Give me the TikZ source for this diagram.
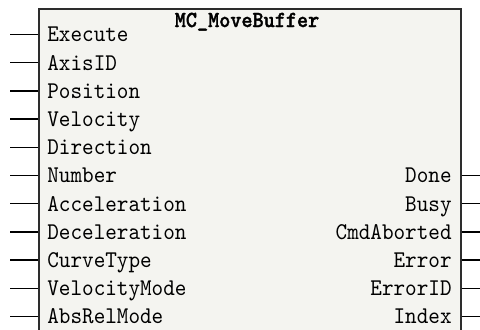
\documentclass[tikz,border=0pt]{standalone}
\usepackage{fontspec}
\setmonofont{lmmono10-regular.otf}[FakeStretch=0.92]
\newfontfamily\fbtitlefont{lmmonolt10-bold.otf}[FakeStretch=0.92,FakeBold=1.6]
\usetikzlibrary{positioning}
\definecolor{fbfill}{RGB}{244,244,240}
\definecolor{fbline}{RGB}{45,45,45}

\begin{document}
\begin{tikzpicture}[
      x=0.5pt,y=-0.5pt,
      fbbox/.style={rectangle,draw=fbline,fill=fbfill,line width=0.8pt,
                    minimum width=211pt,minimum height=172pt,
                    anchor=north west,inner sep=0pt},
      pinlbl/.style={font=\fontsize{12}{12}\selectfont\ttfamily,
                     inner sep=0pt,text height=7.4pt,text depth=0pt},
      wire/.style={line width=0.7pt,color=black}
    ]
      \useasboundingbox (0,0) rectangle (480,329);
      \node[fbbox] (fb) at (38,8) {};
      \node[font=\fontsize{11.5}{11.5}\selectfont\fbtitlefont,inner sep=0pt,anchor=base]
        (title) at (247,27) {MC\_MoveBuffer};

      % inputs
      \foreach \lbl [count=\i from 0] in {Execute,AxisID,Position,Velocity,Direction,
          Number,Acceleration,Deceleration,CurveType,VelocityMode,AbsRelMode}{
        \node[pinlbl,anchor=west] (in\i) at (47,34.5+28.2*\i) {\lbl};
        \draw[wire] (in\i.west -| fb.west) -- ++(-28,0);
      }

      % outputs
      \foreach \lbl [count=\i from 5] in {Done,Busy,CmdAborted,Error,ErrorID,Index}{
        \node[pinlbl,anchor=east] (out\i) at (452,34.5+28.2*\i) {\lbl};
        \draw[wire] (out\i.east -| fb.east) -- ++(22,0);
      }
    \end{tikzpicture}
\end{document}
